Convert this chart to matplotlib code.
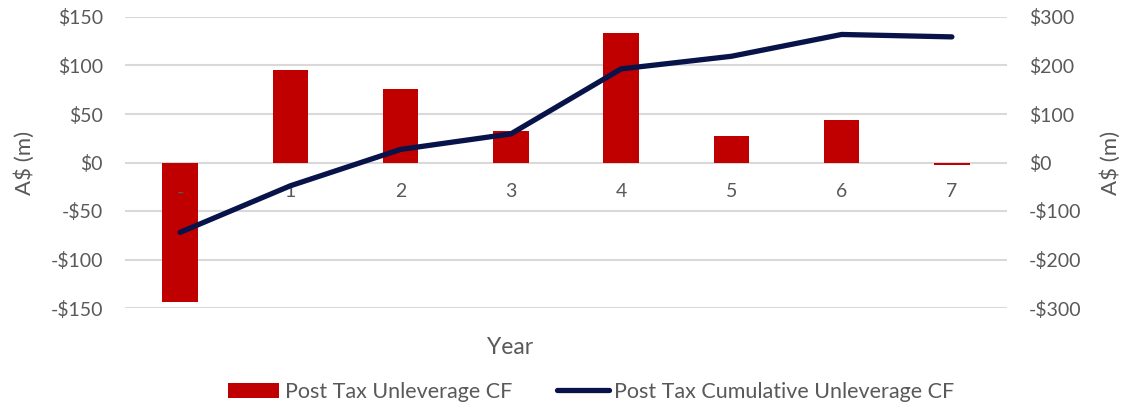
import numpy as np
import matplotlib.pyplot as plt
from matplotlib.ticker import FuncFormatter

years = ["-", "1", "2", "3", "4", "5", "6", "7"]
cf = [-144, 95, 76, 32, 134, 27, 44, -2.5]
cum_cf = [-144, -48, 27, 59, 193, 219, 264, 259]

bar_col = "#c00000"
line_col = "#08134a"
txt_col = "#595959"
grid_col = "#d9d9d9"

plt.rcParams['font.family'] = ['Lato', 'DejaVu Sans']

fig = plt.figure(figsize=(11.22, 4.04), dpi=100)
ax = fig.add_axes([125/1122, 1-308/404, 882/1122, 291/404])
ax2 = ax.twinx()

x = np.arange(len(years))
b = ax.bar(x, cf, width=0.32, color=bar_col, zorder=2, label="Post Tax Unleverage CF")
l, = ax2.plot(x, cum_cf, color=line_col, lw=3.8, solid_capstyle='round',
              solid_joinstyle='round', zorder=3, label="Post Tax Cumulative Unleverage CF")

ax.set_xlim(-0.5, 7.5)
ax.set_ylim(-150, 150)
ax2.set_ylim(-300, 300)
ax.set_yticks(np.arange(-150, 151, 50))
ax2.set_yticks(np.arange(-300, 301, 100))

def money(v, pos):
    v = int(round(v))
    return "-${}".format(-v) if v < 0 else "${}".format(v)

ax.yaxis.set_major_formatter(FuncFormatter(money))
ax2.yaxis.set_major_formatter(FuncFormatter(money))

ax.grid(axis='y', color=grid_col, lw=1.5, zorder=0)
ax.set_axisbelow(True)

for a in (ax, ax2):
    for s in a.spines.values():
        s.set_visible(False)
    a.tick_params(axis='y', length=0, labelsize=14, labelcolor=txt_col, pad=16)

# category labels sit just under the zero line (drawn from ax2 so they show over the bars)
ax.set_xticks(x)
ax.set_xticklabels(years)
ax.tick_params(axis='x', length=0, labelbottom=False)
ax2.xaxis.set_visible(True)
ax2.spines['bottom'].set_position(('data', 0))
ax2.tick_params(axis='x', length=0, labelsize=14, labelcolor=txt_col, pad=15, labelbottom=True)

ax.set_ylabel("A$ (m)", fontsize=16, color=txt_col)
ax2.set_ylabel("A$ (m)", fontsize=16, color=txt_col, rotation=90)
ax.yaxis.set_label_coords(-90/882, 0.5)
ax2.yaxis.set_label_coords(1 + 93/882, 0.5)

fig.text(510/1122, 1-347/404, "Year", fontsize=16.5, color=txt_col, ha='center', va='center')

leg = fig.legend([b, l], ["Post Tax Unleverage CF", "Post Tax Cumulative Unleverage CF"],
                 loc='center', bbox_to_anchor=(591/1122, 1-392/404), ncol=2, frameon=False,
                 fontsize=15.5, handlelength=2.4, handletextpad=0.25, columnspacing=2.1)
for t in leg.get_texts():
    t.set_color(txt_col)

fig.savefig("out.png", dpi=100)
